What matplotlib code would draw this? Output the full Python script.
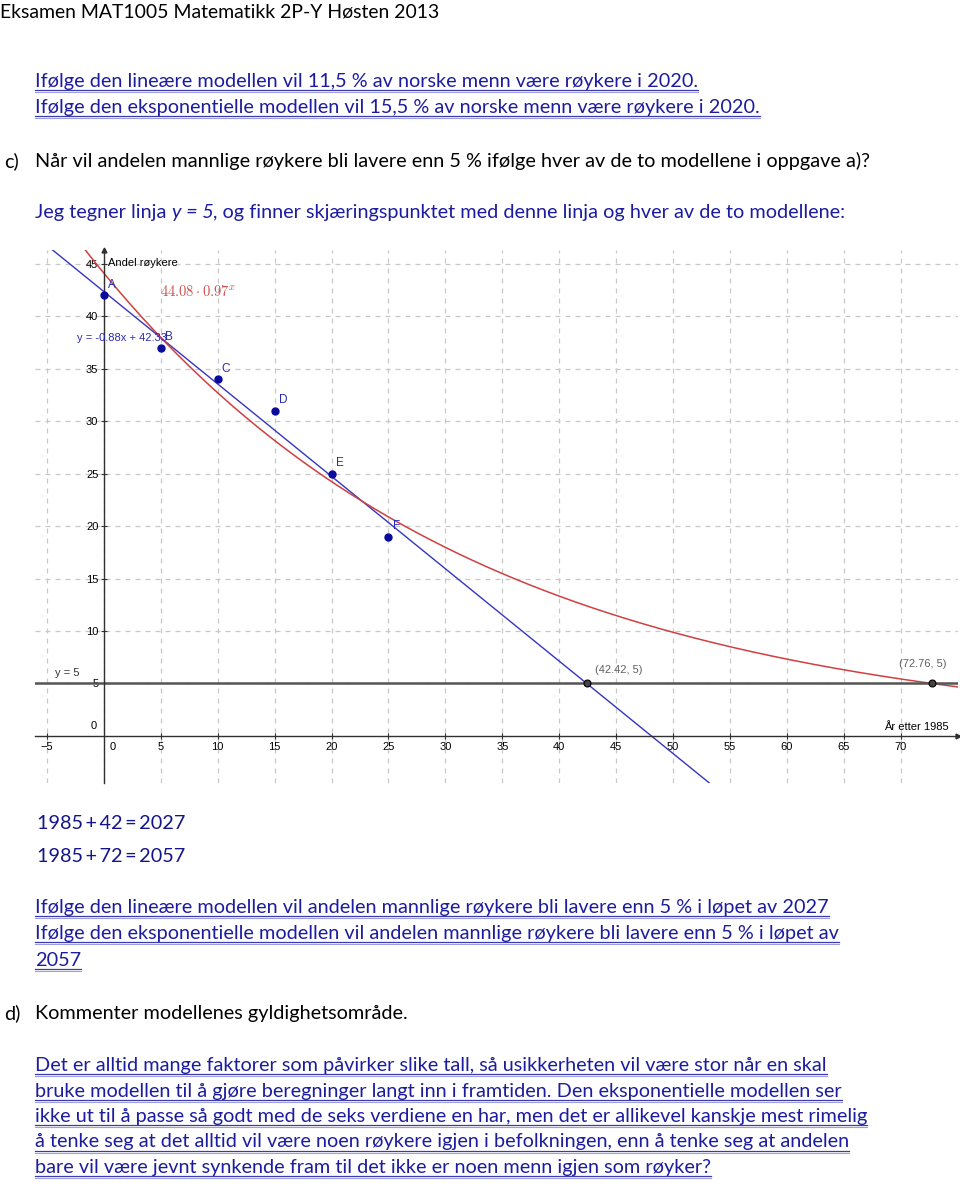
import numpy as np
import matplotlib
matplotlib.use('Agg')
import matplotlib.pyplot as plt
from matplotlib.lines import Line2D

# data: andel mannlige røykere, år etter 1985
years = [0, 5, 10, 15, 20, 25]
smokers = [42, 37, 34, 31, 25, 19]
point_names = ['A', 'B', 'C', 'D', 'E', 'F']
lin_a, lin_b = -0.88, 42.33       # y = -0.88x + 42.33
exp_a, exp_b = 44.08, 0.97053     # 44.08 * 0.97^x (ikke avrundet grunntall)
limit = 5
cross_x = [42.42, 72.76]
cross_labels = ['(42.42, 5)', '(72.76, 5)']

W, H = 960, 1186
fig = plt.figure(figsize=(W / 100, H / 100), dpi=100)
renderer = fig.canvas.get_renderer()

BODY = ['Lato', 'DejaVu Sans']
BLUE_TXT = '#1c1ca0'


def width_of(s, size, family=BODY, style='normal'):
    t = fig.text(0, 0, s, fontsize=size, family=family, fontstyle=style)
    w = t.get_window_extent(renderer).width
    t.remove()
    return w


# finn skriftstørrelse slik at linjene får samme bredde som i originalen
body_size = 10 * 665 / width_of('Ifølge den lineære modellen vil 11,5 % av norske menn være røykere i 2020.', 10)
head_size = 10 * 438 / width_of('Eksamen MAT1005 Matematikk 2P-Y Høsten 2013', 10)


def line(x, y, parts, color, underline=False, size=None):
    size = size or body_size
    x0 = x
    for s, style in parts:
        t = fig.text(x / W, 1 - y / H, s, fontsize=size, family=BODY, fontstyle=style,
                     color=color, va='baseline', ha='left')
        x += t.get_window_extent(renderer).width
    if underline:
        fig.add_artist(Line2D([x0 / W, x / W], [1 - (y + 3) / H] * 2, color='#3a3ab4', lw=0.9))
        fig.add_artist(Line2D([x0 / W, x / W], [1 - (y + 5) / H] * 2, color='#a0a0d8', lw=0.8))


line(0, 17.5, [('Eksamen MAT1005 Matematikk 2P-Y Høsten 2013', 'normal')], 'black', size=head_size)
line(35, 87, [('Ifølge den lineære modellen vil 11,5 % av norske menn være røykere i 2020.', 'normal')], BLUE_TXT, True)
line(35, 113, [('Ifølge den eksponentielle modellen vil 15,5 % av norske menn være røykere i 2020.', 'normal')], BLUE_TXT, True)
line(4, 167, [('c)', 'normal')], 'black')
line(35, 167, [('Når vil andelen mannlige røykere bli lavere enn 5 % ifølge hver av de to modellene i oppgave a)?', 'normal')], 'black')
line(35, 218, [('Jeg tegner linja ', 'normal'), ('y = 5', 'italic'),
               (', og finner skjæringspunktet med denne linja og hver av de to modellene:', 'normal')], BLUE_TXT)

line(37, 829, [('1985\u2009+\u200942\u2009=\u20092027', 'normal')], '#14148c')
line(37, 862, [('1985\u2009+\u200972\u2009=\u20092057', 'normal')], '#14148c')

line(35, 913, [('Ifølge den lineære modellen vil andelen mannlige røykere bli lavere enn 5 % i løpet av 2027', 'normal')], BLUE_TXT, True)
line(35, 939, [('Ifølge den eksponentielle modellen vil andelen mannlige røykere bli lavere enn 5 % i løpet av', 'normal')], BLUE_TXT, True)
line(35, 966, [('2057', 'normal')], BLUE_TXT, True)

line(4, 1019, [('d)', 'normal')], 'black')
line(35, 1019, [('Kommenter modellenes gyldighetsområde.', 'normal')], 'black')

para = [
    'Det er alltid mange faktorer som påvirker slike tall, så usikkerheten vil være stor når en skal',
    'bruke modellen til å gjøre beregninger langt inn i framtiden. Den eksponentielle modellen ser',
    'ikke ut til å passe så godt med de seks verdiene en har, men det er allikevel kanskje mest rimelig',
    'å tenke seg at det alltid vil være noen røykere igjen i befolkningen, enn å tenke seg at andelen',
    'bare vil være jevnt synkende fram til det ikke er noen menn igjen som røyker?',
]
for i, s in enumerate(para):
    line(35, 1071 + i * 25.5, [(s, 'normal')], BLUE_TXT, True)

# ---- grafen (GeoGebra-stil) ----
ax = fig.add_axes([35 / W, 1 - 783 / H, (958 - 35) / W, (783 - 250) / H])
ax.set_xlim(-6.06, 75.04)
ax.set_ylim(-4.48, 46.3)
ax.patch.set_alpha(0)

for s in ['top', 'right']:
    ax.spines[s].set_visible(False)
ax.spines['left'].set_position(('data', 0))
ax.spines['bottom'].set_position(('data', 0))
for s in ['left', 'bottom']:
    ax.spines[s].set_color('#303030')
    ax.spines[s].set_linewidth(1.0)

xt = [v for v in range(-5, 75, 5) if v != 0]
yt = list(range(5, 50, 5))
ax.set_xticks(xt)
ax.set_yticks(yt)
ax.tick_params(direction='inout', length=4, width=0.8, color='#303030', pad=2,
               labelsize=8, labelfontfamily='Liberation Sans')
for v in range(-5, 75, 5):
    ax.axvline(v, color='#c8c8c8', lw=0.9, dashes=(4, 4), zorder=0)
for v in range(5, 50, 5):
    ax.axhline(v, color='#c8c8c8', lw=0.9, dashes=(4, 4), zorder=0)
ax.text(0.5, -0.6, '0', fontsize=8, family='Liberation Sans', ha='left', va='top')
ax.text(-0.6, 0.5, '0', fontsize=8, family='Liberation Sans', ha='right', va='bottom')

# piler på aksene
ax.plot(1, 0, '>', color='#303030', ms=3.5, transform=ax.get_yaxis_transform(), clip_on=False)
ax.plot(0, 1, '^', color='#303030', ms=3.5, transform=ax.get_xaxis_transform(), clip_on=False)
ax.text(0.35, 45.1, 'Andel røykere', fontsize=8, family='Liberation Sans', va='center', ha='left')
ax.text(74.2, 0.9, 'År etter 1985', fontsize=8, family='Liberation Sans', va='center', ha='right')

xs = np.linspace(-6.06, 75.04, 400)
ax.plot(xs, lin_a * xs + lin_b, color='#3535c0', lw=1.0)
ax.plot(xs, exp_a * exp_b ** xs, color='#d04040', lw=1.1)
ax.axhline(limit, color='#555555', lw=1.8)

ax.plot(years, smokers, 'o', color='#0a0a9c', ms=5, zorder=5)
for n, xv, yv in zip(point_names, years, smokers):
    ax.annotate(n, (xv, yv), xytext=(6, 7.5), textcoords='offset points', ha='center', va='center',
                fontsize=8.5, family='Liberation Sans', color='#2a2ab0')

ax.plot(cross_x, [limit] * 2, 'o', mfc='#444444', mec='black', mew=0.8, ms=5, zorder=6)
ax.annotate(cross_labels[0], (cross_x[0], limit), xytext=(6, 9.5), textcoords='offset points',
            ha='left', va='center', fontsize=8, family='Liberation Sans', color='#606060')
ax.annotate(cross_labels[1], (cross_x[1], limit), xytext=(-6.5, 13.7), textcoords='offset points',
            ha='center', va='center', fontsize=8, family='Liberation Sans', color='#606060')
ax.text(-4.3, 6.0, 'y = 5', fontsize=8, family='Liberation Sans', color='#333333', va='center')

ax.text(-2.37, 37.9, 'y = -0.88x + 42.33', fontsize=8, family='Liberation Sans', color='#2a2ab0', va='center')
ax.text(4.9, 42.3, r'$44.08 \cdot 0.97^x$', fontsize=10.5, color='#d05050', va='center', math_fontfamily='cm')

fig.savefig('out.png', dpi=100)
